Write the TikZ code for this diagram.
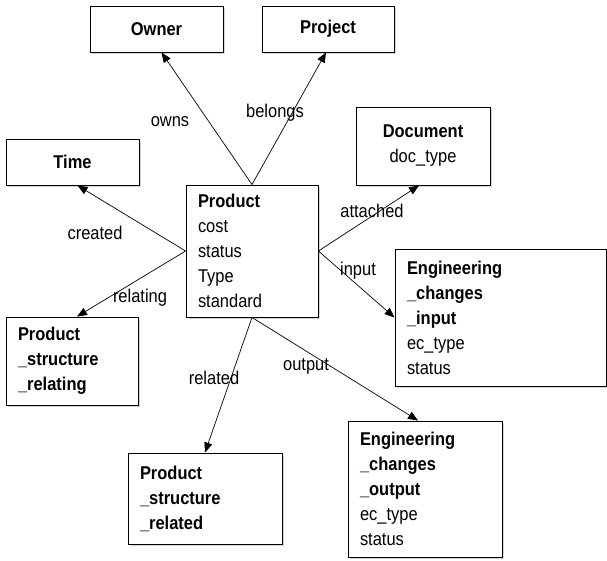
\documentclass[tikz,border=0pt]{standalone}
\usepackage{fontspec}
\setmainfont{Liberation Sans}[FakeStretch=0.89]
\usepackage{tikz}
\usetikzlibrary{arrows.meta,positioning,shadows}

\begin{document}
\begin{tikzpicture}[x=1pt, y=-1pt,
    every node/.style={font=\fontsize{18.5}{25}\selectfont},
    entity/.style={draw, line width=0.9pt, fill=white, inner xsep=12pt, inner ysep=0pt,
        drop shadow={shadow xshift=2pt, shadow yshift=-2pt, fill=black!40, opacity=0.4}},
    link/.style={-{Triangle[length=10pt,width=8pt]}, line width=0.7pt},
    rel/.style={inner sep=0pt}]
    \useasboundingbox (0,0) rectangle (607,560);
    % Entities
    \node[entity, minimum width=133pt, minimum height=46pt] (owner) at (156.5,29) {\textbf{Owner}};
    \node[entity, minimum width=132pt, minimum height=46pt] (project) at (328,29) {\textbf{Project}};
    \node[entity, minimum width=133pt, minimum height=46pt] (time) at (72.5,162) {\textbf{Time}};
    \node[entity, minimum width=134pt, minimum height=78pt, align=center] (document) at (423,146) {\textbf{Document}\\doc\_type};
    \node[entity, text width=108pt, minimum height=132pt, align=left] (product) at (252,251)
        {\textbf{Product}\\cost\\status\\Type\\standard};
    \node[entity, text width=187pt, minimum height=137pt, align=left] (ecinput) at (500.5,317.5)
        {\textbf{Engineering}\\\textbf{\_changes}\\\textbf{\_input}\\ec\_type\\status};
    \node[entity, text width=108pt, minimum height=88pt, align=left] (psrelating) at (72,361)
        {\textbf{Product}\\\textbf{\_structure}\\\textbf{\_relating}};
    \node[entity, text width=130pt, minimum height=91pt, align=left] (psrelated) at (205,498.5)
        {\textbf{Product}\\\textbf{\_structure}\\\textbf{\_related}};
    \node[entity, text width=130pt, minimum height=136pt, align=left] (ecoutput) at (425,489)
        {\textbf{Engineering}\\\textbf{\_changes}\\\textbf{\_output}\\ec\_type\\status};
    % Relationships
    \draw[link] (product.north) -- ([xshift=5pt]owner.south);
    \draw[link] (product.north) -- ([xshift=-2pt]project.south);
    \draw[link] (product.west) -- ([xshift=5pt]time.south);
    \draw[link] (product.east) -- ([xshift=-4pt]document.south);
    \draw[link] (product.east) -- (ecinput.west);
    \draw[link] (product.west) -- ([xshift=5pt]psrelating.north);
    \draw[link] (product.south) -- (psrelated.north);
    \draw[link] (product.south) -- ([xshift=-7pt]ecoutput.north);
    % Labels
    \node[rel] (owns) at (170,122) {owns};
    \node[rel] (belongs) at (275,113) {belongs};
    \node[rel] (created) at (95,233) {created};
    \node[rel] (relating) at (140,298) {relating};
    \node[rel] (attached) at (372,211) {attached};
    \node[rel] (input) at (358,271) {input};
    \node[rel] (related) at (214,378) {related};
    \node[rel] (output) at (306,366) {output};
\end{tikzpicture}
\end{document}
